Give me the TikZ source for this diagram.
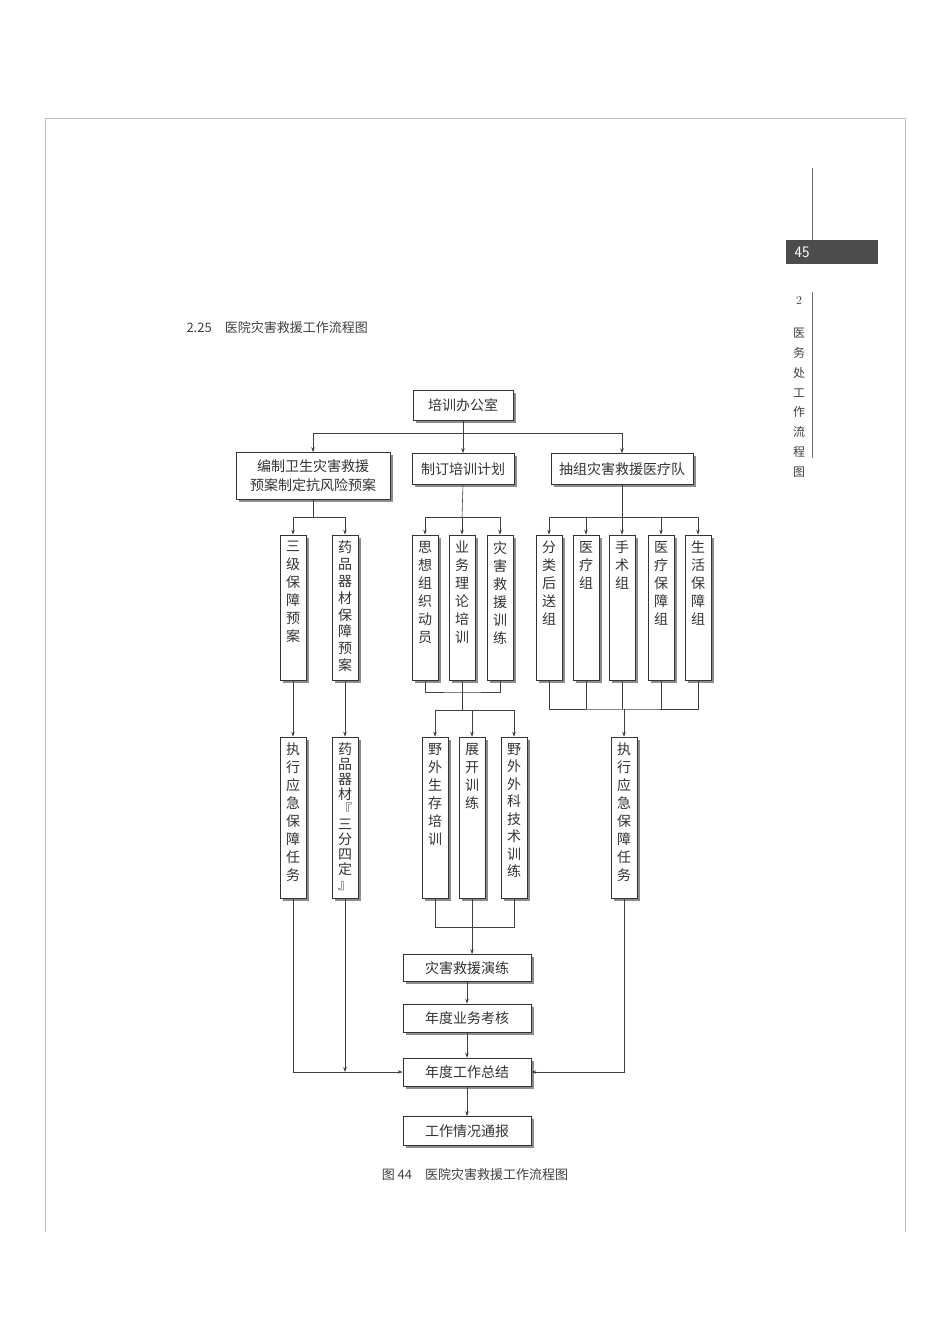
\documentclass[tikz,border=0pt]{standalone}
\usepackage{fontspec}
\newfontfamily\cjk{Noto Sans CJK SC}
\usetikzlibrary{shadows,arrows.meta}
\begin{document}
\begin{tikzpicture}[x=1pt,y=-1pt,
  bx/.style={draw=black!80,line width=0.7pt,fill=white,drop shadow={shadow xshift=2.5pt,shadow yshift=-2.5pt,fill=black!45,opacity=1},inner sep=0pt},
  tx/.style={font=\cjk\fontsize{14}{15}\selectfont,text=black!80},
  vt/.style={font=\cjk\fontsize{14}{18}\selectfont,text=black!80,align=center,anchor=north,inner sep=0pt},
  ln/.style={draw=black!75,line width=0.6pt},
  ar/.style={ln,-{Stealth[length=5pt,width=3.5pt]}}]
\useasboundingbox (0,0) rectangle (950,1344);
\fill[white] (0,0) rectangle (950,1344);
% page frame
\draw[black!25,line width=0.8pt] (45,1232) -- (45,118) -- (905,118) -- (905,1232);
\draw[black!55,line width=0.8pt] (812,168) -- (812,240);
\fill[black!70] (786,240) rectangle (878,264);
\node[text=white,font=\fontsize{16}{16}\selectfont\sffamily,anchor=west] (pg) at (791,252) {45};
\draw[black!55,line width=0.8pt] (812,292) -- (812,458);
\node[font=\fontsize{12}{12}\selectfont,text=black!75] (ch) at (799,301) {2};
\node[font=\cjk\fontsize{12}{19.8}\selectfont,text=black!75,align=center,anchor=north,inner sep=0pt] (chn) at (799,328) {医\\务\\处\\工\\作\\流\\程\\图};
\node[font=\cjk\fontsize{13}{13}\selectfont,text=black!75,anchor=west] (ttl) at (183,328) {2.25\quad 医院灾害救援工作流程图};
\node[font=\cjk\fontsize{13}{13}\selectfont,text=black!75] (cap) at (475,1175) {图 44\quad 医院灾害救援工作流程图};

% top level
\node[bx,tx,minimum width=100pt,minimum height=30pt] (top) at (463,405) {培训办公室};
\node[bx,tx,minimum width=154pt,minimum height=47pt,align=center,font=\cjk\fontsize{14}{19}\selectfont] (A) at (313,476) {编制卫生灾害救援\\预案制定抗风险预案};
\node[bx,tx,minimum width=102pt,minimum height=31pt] (B) at (463,469) {制订培训计划};
\node[bx,tx,minimum width=142pt,minimum height=31pt] (C) at (622,469) {抽组灾害救援医疗队};
\coordinate (tj) at (463,433);
\draw[ln] (top.south) -- (tj);
\draw[ar] (tj) -| (A.north);
\draw[ar] (tj) -- (B.north);
\draw[ar] (tj) -| (C.north);

% vertical boxes macro: name, x, ytop, ybot, line skip, text
\newcommand{\vbx}[6]{\node[bx,minimum width=26pt,minimum height=#4-#3] (#1) at (#2,{(#3+#4)/2}) {};
  \node[vt,font=\cjk\fontsize{14}{#5}\selectfont] (#1t) at (#2,#3+6) {#6};}
\vbx{a1}{293}{535}{680}{18}{三\\级\\保\\障\\预\\案}
\vbx{a2}{345}{535}{680}{16.8}{药\\品\\器\\材\\保\\障\\预\\案}
\vbx{b1}{425}{535}{680}{18}{思\\想\\组\\织\\动\\员}
\vbx{b2}{462}{535}{680}{18}{业\\务\\理\\论\\培\\训}
\vbx{b3}{500}{535}{680}{18}{灾\\害\\救\\援\\训\\练}
\vbx{c1}{549}{535}{680}{18}{分\\类\\后\\送\\组}
\vbx{c2}{586}{535}{680}{18}{医\\疗\\组}
\vbx{c3}{622}{535}{680}{18}{手\\术\\组}
\vbx{c4}{661}{535}{680}{18}{医\\疗\\保\\障\\组}
\vbx{c5}{698}{535}{680}{18}{生\\活\\保\\障\\组}
\vbx{d1}{293}{737}{898}{18}{执\\行\\应\\急\\保\\障\\任\\务}
\vbx{d2}{345}{737}{898}{15}{药\\品\\器\\材\\『\\三\\分\\四\\定\\』}
\vbx{e1}{435}{737}{898}{18}{野\\外\\生\\存\\培\\训}
\vbx{e2}{472}{737}{898}{18}{展\\开\\训\\练}
\vbx{e3}{514}{737}{898}{17.5}{野\\外\\外\\科\\技\\术\\训\\练}
\vbx{f1}{624}{737}{898}{18}{执\\行\\应\\急\\保\\障\\任\\务}

% A branch
\coordinate (aj) at (313,517);
\draw[ln] (A.south) -- (aj);
\draw[ar] (aj) -| (a1.north);
\draw[ar] (aj) -| (a2.north);
\draw[ar] (a1.south) -- (d1.north);
\draw[ar] (a2.south) -- (d2.north);
% B branch
\coordinate (bj) at (462,517);
\draw[ln] (B.south) -- (bj);
\draw[ar] (bj) -| (b1.north);
\draw[ar] (bj) -- (b2.north);
\draw[ar] (bj) -| (b3.north);
\coordinate (bk) at (462,692);
\draw[ln] (b1.south) |- (bk) -| (b3.south);
\draw[ln] (b2.south) -- (bk);
\coordinate (bl) at (462,710);
\draw[ln] (bk) -- (bl);
\draw[ar] (bl) -| (e1.north);
\draw[ar] (bl) -| (e2.north);
\draw[ar] (bl) -| (e3.north);
% C branch
\coordinate (cj) at (622,517);
\draw[ln] (C.south) -- (cj);
\draw[ar] (cj) -| (c1.north);
\draw[ar] (cj) -| (c2.north);
\draw[ar] (cj) -- (c3.north);
\draw[ar] (cj) -| (c4.north);
\draw[ar] (cj) -| (c5.north);
\coordinate (ck) at (622,709);
\draw[ln] (c1.south) |- (ck) -| (c5.south);
\draw[ln] (c2.south) -- (586,709);
\draw[ln] (c3.south) -- (ck);
\draw[ln] (c4.south) -- (661,709);
\draw[ar] (624,709) -- (f1.north);

% bottom chain
\node[bx,tx,minimum width=128pt,minimum height=27pt] (g1) at (467,968) {灾害救援演练};
\node[bx,tx,minimum width=128pt,minimum height=28pt] (g2) at (467,1018) {年度业务考核};
\node[bx,tx,minimum width=128pt,minimum height=28pt] (g3) at (467,1072) {年度工作总结};
\node[bx,tx,minimum width=128pt,minimum height=29pt] (g4) at (467,1131) {工作情况通报};
\coordinate (ej) at (472,927);
\draw[ln] (e1.south) |- (ej) -| (e3.south);
\draw[ln] (e2.south) -- (ej);
\draw[ar] (ej) -- (g1.north -| ej);
\draw[ar] (g1.south) -- (g2.north);
\draw[ar] (g2.south) -- (g3.north);
\draw[ar] (g3.south) -- (g4.north);
\draw[ar] (d1.south) |- (g3.west);
\draw[ar] (d2.south) -- (d2.south |- g3.west);
\draw[ar] (f1.south) |- (g3.east);
\end{tikzpicture}
\end{document}
